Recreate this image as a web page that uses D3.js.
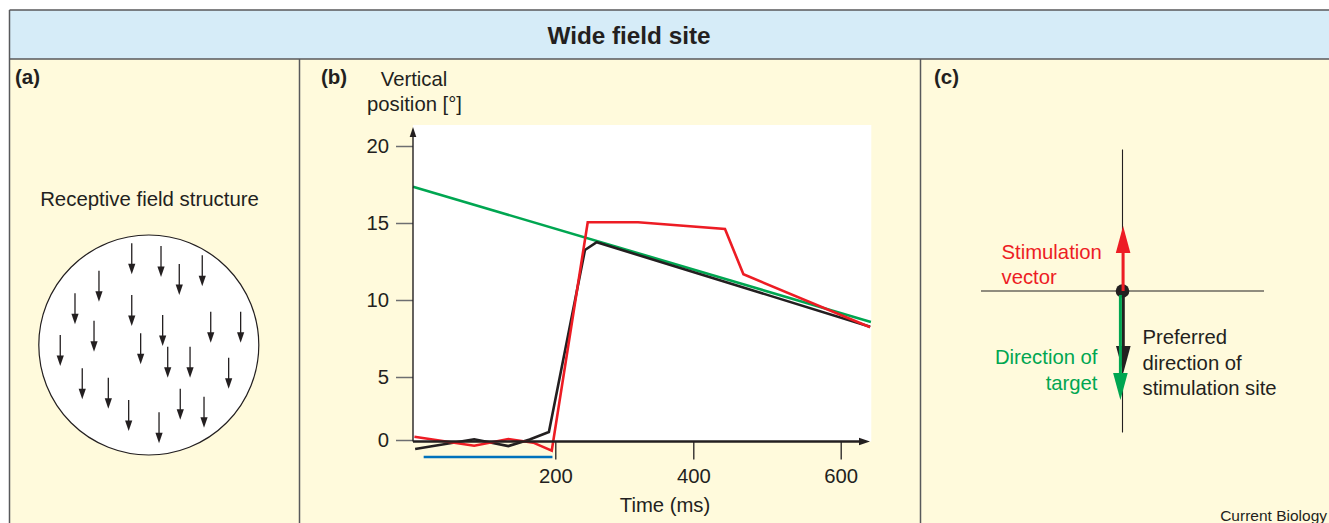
<!DOCTYPE html>
<html>
<head>
<meta charset="utf-8">
<script src="https://cdn.jsdelivr.net/npm/d3@7/dist/d3.min.js"></script>
<style>
  html, body { margin: 0; padding: 0; background: #ffffff; }
  svg { display: block; }
  text { font-family: "Liberation Sans", Arial, Helvetica, sans-serif; }
</style>
</head>
<body>
<svg id="chart" width="1329" height="523"></svg>
<script>
// ---------------- DATA ----------------
// Panel (b): vertical position over time
const timeTicks = [200, 400, 600];
const posTicks = [0, 5, 10, 15, 20];
const targetTime = [0, 641];
const targetPos = [17.36, 8.57];
const eyeTime = [3, 86, 134, 164, 191, 243, 260, 640];
const eyePos = [-0.71, 0.06, -0.48, 0.04, 0.63, 13.25, 13.75, 8.27];
const evokedTime = [2, 86, 134, 169, 195, 247, 320, 443, 468, 640];
const evokedPos = [0.26, -0.45, 0.08, -0.21, -0.85, 15.05, 15.05, 14.61, 11.67, 8.23];
const stimWindow = [15, 196];
const stimLevel = -1.35;

// Panel (a): receptive field local direction arrows (field units, circle radius = 1)
const rfArrowX = [-0.155, 0.111, 0.277, 0.486, -0.453, -0.671, -0.155, 0.126, 0.563, 0.835, -0.498,
                  -0.805, -0.074, 0.172, 0.375, 0.726, -0.605, -0.368, -0.183, 0.286, 0.502, 0.093];
const rfArrowY = [-0.925, -0.9, -0.736, -0.815, -0.675, -0.47, -0.455, -0.273, -0.303, -0.303, -0.221,
                  -0.091, -0.106, 0.015, 0.015, 0.115, 0.212, 0.297, 0.5, 0.397, 0.47, 0.612];
const rfArrowLen = 0.282;

// Panel (c): vectors (units of cross half-length; negative = downward)
const vectorNames = ["Stimulation vector", "Preferred direction", "Direction of target"];
const vectorLen = [0.46, -0.58, -0.77];

// ---------------- DRAWING ----------------
const svg = d3.select("#chart").attr("fill", "#231f20");
const C = { red: "#ed1c24", green: "#00a651", black: "#231f20", blue: "#0072bc",
            bg: "#fffadc", head: "#d6ecf8", frame: "#58595b" };
const FS = 20.3;

// frame & background
svg.append("rect").attr("x", 9.5).attr("y", 10).attr("width", 1330).attr("height", 520).attr("fill", C.bg);
svg.append("rect").attr("x", 9.5).attr("y", 10).attr("width", 1330).attr("height", 49).attr("fill", C.head);
const frame = svg.append("g").attr("stroke", C.frame).attr("stroke-width", 1.5).attr("fill", "none");
frame.append("line").attr("x1", 9.5).attr("x2", 1329).attr("y1", 10).attr("y2", 10);
frame.append("line").attr("x1", 9.5).attr("x2", 1329).attr("y1", 59).attr("y2", 59);
frame.append("line").attr("x1", 9.5).attr("x2", 9.5).attr("y1", 10).attr("y2", 523);
frame.append("line").attr("x1", 299.5).attr("x2", 299.5).attr("y1", 59).attr("y2", 523);
frame.append("line").attr("x1", 920.5).attr("x2", 920.5).attr("y1", 59).attr("y2", 523);

svg.append("text").attr("x", 629).attr("y", 43.5).attr("text-anchor", "middle")
  .attr("font-size", 24.3).attr("font-weight", "bold").text("Wide field site");

const lab = [["(a)", 15], ["(b)", 321], ["(c)", 934]];
lab.forEach(([t, x]) => svg.append("text").attr("x", x).attr("y", 84)
  .attr("font-size", 20.5).attr("font-weight", "bold").text(t));

// ---------- Panel (a) ----------
const fx = d3.scaleLinear().domain([-1, 1]).range([148.8 - 110, 148.8 + 110]);
const fy = d3.scaleLinear().domain([-1, 1]).range([345 - 110, 345 + 110]);
const pa = svg.append("g");
pa.append("text").attr("x", 149.5).attr("y", 206).attr("text-anchor", "middle")
  .attr("font-size", 20.4).text("Receptive field structure");
pa.append("circle").attr("cx", fx(0)).attr("cy", fy(0)).attr("r", fx(1) - fx(0))
  .attr("fill", "#ffffff").attr("stroke", "#231f20").attr("stroke-width", 1.2);
const rf = rfArrowX.map((x, i) => ({ x: x, y: rfArrowY[i] }));
const ag = pa.selectAll("g.rfa").data(rf).join("g").attr("class", "rfa");
ag.append("line")
  .attr("x1", d => fx(d.x)).attr("x2", d => fx(d.x))
  .attr("y1", d => fy(d.y)).attr("y2", d => fy(d.y + rfArrowLen) - 8)
  .attr("stroke", "#231f20").attr("stroke-width", 1.3);
ag.append("path")
  .attr("d", d => {
    const x = fx(d.x), tip = fy(d.y + rfArrowLen);
    return `M${x},${tip} L${x - 3.6},${tip - 10.5} L${x + 3.6},${tip - 10.5} Z`;
  })
  .attr("fill", "#231f20");

// ---------- Panel (b) ----------
const x = d3.scaleLinear().domain([0, 200, 400, 600]).range([413, 555.3, 693.3, 840.7]);
const y = d3.scaleLinear().domain([0, 5, 10, 15, 20]).range([440, 377, 300, 223, 146]);
const plotRight = x(641.5), plotTop = 125, axisY = 441.5;
const pb = svg.append("g");
pb.append("rect").attr("x", x(0)).attr("y", plotTop).attr("width", plotRight - x(0))
  .attr("height", axisY - plotTop).attr("fill", "#ffffff");

pb.append("text").attr("x", 414).attr("y", 86).attr("text-anchor", "middle").attr("font-size", FS).text("Vertical");
pb.append("text").attr("x", 414.5).attr("y", 111).attr("text-anchor", "middle").attr("font-size", FS).text("position [°]");

// y axis
const yAxis = pb.append("g").attr("transform", `translate(${x(0)},0)`)
  .call(d3.axisLeft(y).tickValues(posTicks).tickSize(17).tickPadding(7));
yAxis.select(".domain").remove();
yAxis.selectAll(".tick line").attr("stroke", "#6d6e71").attr("stroke-width", 1.5);
yAxis.selectAll(".tick text").attr("font-size", FS).attr("fill", "#231f20")
  .attr("font-family", "Liberation Sans, Arial, sans-serif");

// x axis
const xAxis = pb.append("g").attr("transform", `translate(0,${axisY})`)
  .call(d3.axisBottom(x).tickValues(timeTicks).tickSize(18).tickPadding(9.2));
xAxis.select(".domain").remove();
xAxis.selectAll(".tick line").attr("stroke", "#231f20").attr("stroke-width", 1.3);
xAxis.selectAll(".tick text").attr("font-size", FS).attr("fill", "#231f20")
  .attr("font-family", "Liberation Sans, Arial, sans-serif");

pb.append("text").attr("x", 665).attr("y", 511.5).attr("text-anchor", "middle").attr("font-size", FS).text("Time (ms)");

// traces
const line = d3.line().x(d => x(d[0])).y(d => y(d[1]));
const series = [
  { t: targetTime, v: targetPos, c: C.green },
  { t: eyeTime, v: eyePos, c: C.black },
  { t: evokedTime, v: evokedPos, c: C.red }
];
series.forEach(s => {
  pb.append("path").datum(s.t.map((t, i) => [t, s.v[i]]))
    .attr("d", line).attr("fill", "none").attr("stroke", s.c)
    .attr("stroke-width", 2.6).attr("stroke-linejoin", "miter").attr("stroke-miterlimit", 3);
});

// stimulation bar
pb.append("line").attr("x1", x(stimWindow[0])).attr("x2", x(stimWindow[1]))
  .attr("y1", y(stimLevel)).attr("y2", y(stimLevel))
  .attr("stroke", C.blue).attr("stroke-width", 2.6);

// axis lines with arrows
pb.append("line").attr("x1", x(0)).attr("x2", x(0)).attr("y1", axisY).attr("y2", 134)
  .attr("stroke", "#231f20").attr("stroke-width", 1.4);
pb.append("path").attr("d", `M${x(0)},127 L${x(0) - 3.3},137 L${x(0) + 3.3},137 Z`).attr("fill", "#231f20");
pb.append("line").attr("x1", x(0)).attr("x2", 862).attr("y1", axisY).attr("y2", axisY)
  .attr("stroke", "#231f20").attr("stroke-width", 2.4);
pb.append("path").attr("d", `M870,${axisY} L859,${axisY - 3.8} L859,${axisY + 3.8} Z`).attr("fill", "#231f20");

// ---------- Panel (c) ----------
const cx0 = 1122.5, cy0 = 291, half = 141.5;
const vx = d3.scaleLinear().domain([-1, 1]).range([cx0 - half, cx0 + half]);
const vy = d3.scaleLinear().domain([-1, 1]).range([cy0 + half, cy0 - half]);
const pc = svg.append("g");
pc.append("line").attr("x1", vx(0)).attr("x2", vx(0)).attr("y1", vy(1)).attr("y2", vy(-1))
  .attr("stroke", "#231f20").attr("stroke-width", 1.1);
pc.append("line").attr("x1", vx(-1)).attr("x2", vx(1)).attr("y1", vy(0)).attr("y2", vy(0))
  .attr("stroke", "#231f20").attr("stroke-width", 1.1);
pc.append("circle").attr("cx", vx(0)).attr("cy", vy(0)).attr("r", 6.8).attr("fill", "#231f20");

const vcolors = [C.red, C.black, C.green];
const voffset = [0.6, 0.8, -2.1];
const vdata = vectorLen.map((l, i) => ({ name: vectorNames[i], len: l, c: vcolors[i], dx: voffset[i] }));
// draw order: preferred, target, stimulation
[vdata[1], vdata[2], vdata[0]].forEach(d => {
  const xx = vx(0) + d.dx, tip = vy(d.len), dir = d.len > 0 ? 1 : -1;
  const base = tip + dir * 27;
  const startY = vy(0) + (d.len < 0 ? 4 : 0);
  pc.append("line").attr("x1", xx).attr("x2", xx).attr("y1", startY).attr("y2", base - dir * 1)
    .attr("stroke", d.c).attr("stroke-width", 3);
  pc.append("path").attr("d", `M${xx},${tip} L${xx - 7.3},${base} L${xx + 7.3},${base} Z`).attr("fill", d.c);
});

const tc = pc.append("g").attr("font-size", FS);
tc.append("text").attr("x", 1001.5).attr("y", 259).attr("fill", C.red).text("Stimulation");
tc.append("text").attr("x", 1001.5).attr("y", 283.5).attr("fill", C.red).text("vector");
tc.append("text").attr("x", 1097.5).attr("y", 364).attr("text-anchor", "end").attr("fill", C.green).text("Direction of");
tc.append("text").attr("x", 1097.5).attr("y", 389.5).attr("text-anchor", "end").attr("fill", C.green).text("target");
tc.append("text").attr("x", 1142.5).attr("y", 344).text("Preferred");
tc.append("text").attr("x", 1142.5).attr("y", 369.5).text("direction of");
tc.append("text").attr("x", 1142.5).attr("y", 395).text("stimulation site");

svg.append("text").attr("x", 1327).attr("y", 521).attr("text-anchor", "end")
  .attr("font-size", 15.5).text("Current Biology");
</script>
</body>
</html>
